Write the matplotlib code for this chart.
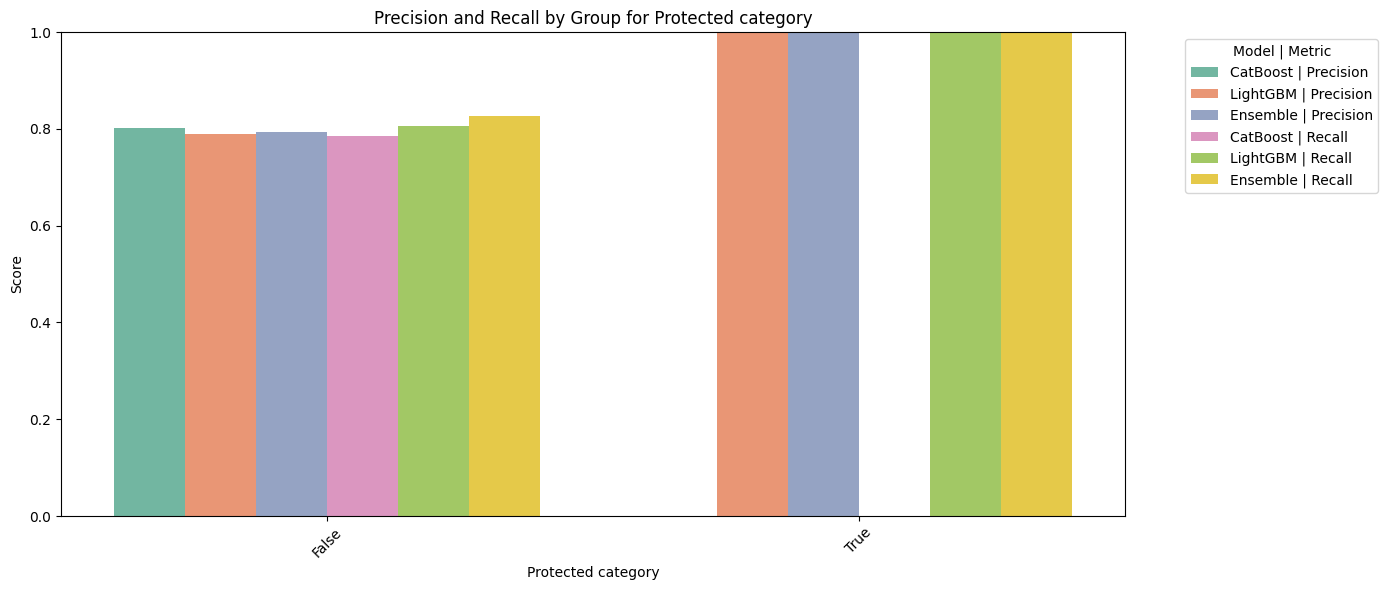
import numpy as np
import pandas as pd
import matplotlib
matplotlib.use('Agg')
import matplotlib.pyplot as plt
import seaborn as sns

# groups and series
groups = ['False', 'True']
series = ['CatBoost | Precision', 'LightGBM | Precision', 'Ensemble | Precision',
          'CatBoost | Recall', 'LightGBM | Recall', 'Ensemble | Recall']
vals_false = [0.802, 0.789, 0.793, 0.785, 0.806, 0.827]
vals_true = [0.0, 1.0, 1.0, 0.0, 1.0, 1.0]

rows = []
for s, v in zip(series, vals_false):
    rows.append({'Protected category': 'False', 'Model | Metric': s, 'Score': v})
for s, v in zip(series, vals_true):
    rows.append({'Protected category': 'True', 'Model | Metric': s, 'Score': v})
df = pd.DataFrame(rows)

W, H = 1388, 590
plt.figure(figsize=(W / 100, H / 100), dpi=100)
ax = sns.barplot(data=df, x='Protected category', y='Score', hue='Model | Metric',
                 order=groups, hue_order=series, palette='Set2')
ax.set_ylim(0, 1)
ax.set_title('Precision and Recall by Group for Protected category')
plt.xticks(rotation=45)
ax.legend(title='Model | Metric', bbox_to_anchor=(1.05, 1), loc='upper left')
plt.subplots_adjust(left=61 / W, right=1125 / W, top=1 - 32 / H, bottom=1 - 516 / H)
plt.savefig('out.png', dpi=100)
